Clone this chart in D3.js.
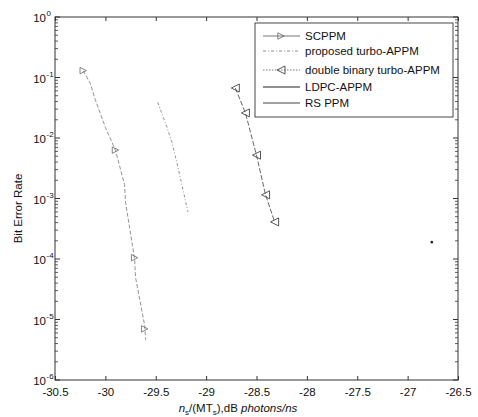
<!DOCTYPE html>
<html><head><meta charset="utf-8">
<script src="https://cdn.jsdelivr.net/npm/d3@7"></script>
<style>body{margin:0;background:#fff}svg{display:block}text{font-family:"Liberation Sans",Arial,sans-serif;fill:#111}</style>
</head><body><svg id="c" width="478" height="417"></svg>
<script>
// ---- data ----
const xTicks = [-30.5, -30, -29.5, -29, -28.5, -28, -27.5, -27, -26.5];
const xTickLabels = ["-30.5", "-30", "-29.5", "-29", "-28.5", "-28", "-27.5", "-27", "-26.5"];
const yExponents = [0, -1, -2, -3, -4, -5, -6];

const scppmX = [-30.22, -30.15, -30.10, -30.00, -29.90, -29.81, -29.80, -29.71, -29.70, -29.61, -29.60];
const scppmY = [0.13, 0.08, 0.043, 0.015, 6.3e-3, 1.7e-3, 8.7e-4, 1.0e-4, 4.9e-5, 8e-6, 4.6e-6];
const scppmMarkX = [-30.22, -29.90, -29.71, -29.61];
const scppmMarkY = [0.13, 6.3e-3, 1.05e-4, 7e-6];

const turboX = [-29.48, -29.39, -29.34, -29.28, -29.18];
const turboY = [0.039, 0.0152, 8.6e-3, 3.3e-3, 6e-4];

const dbX = [-28.71, -28.61, -28.50, -28.41, -28.32];
const dbY = [0.067, 0.026, 5.2e-3, 1.15e-3, 4.1e-4];

const ldpcX = [];
const ldpcY = [];

const rsX = [-26.76];
const rsY = [1.9e-4];

const legendLabels = ["SCPPM", "proposed turbo-APPM", "double binary turbo-APPM", "LDPC-APPM", "RS PPM"];

// ---- layout ----
const svg = d3.select("#c");
const L = 55, R = 458, T = 17, B = 380;
const x = d3.scaleLinear().domain([-30.5, -26.5]).range([L, R]);
const y = d3.scaleLog().domain([1e-6, 1]).range([B, T]);
const axisCol = "#333";

// frame
svg.append("rect").attr("x", L).attr("y", T).attr("width", R - L).attr("height", B - T)
  .attr("fill", "none").attr("stroke", axisCol).attr("stroke-width", 1);

// x ticks (bottom & top, inward)
const xb = d3.axisBottom(x).tickValues(xTicks).tickSize(-4).tickFormat((d, i) => xTickLabels[i]);
const gxb = svg.append("g").attr("transform", `translate(0,${B})`).call(xb);
gxb.select(".domain").remove();
gxb.selectAll("line").attr("stroke", axisCol);
gxb.selectAll("text").attr("dy", "0").attr("y", 16).attr("font-size", 11.5).attr("fill", "#111")
  .style("font-family", '"Liberation Sans",Arial,sans-serif');
const gxt = svg.append("g").attr("transform", `translate(0,${T})`)
  .call(d3.axisTop(x).tickValues(xTicks).tickSize(-4).tickFormat(""));
gxt.select(".domain").remove();
gxt.selectAll("line").attr("stroke", axisCol);

// y ticks: major + minor, left & right
const minor = [];
for (let e = -6; e < 0; e++) for (let k = 2; k <= 9; k++) minor.push(k * Math.pow(10, e));
const majors = yExponents.map(e => Math.pow(10, e));
[[L, 1], [R, -1]].forEach(([x0, s]) => {
  const g = svg.append("g");
  g.selectAll("line.mj").data(majors).join("line")
    .attr("x1", x0).attr("x2", x0 + s * 5).attr("y1", d => y(d)).attr("y2", d => y(d))
    .attr("stroke", axisCol);
  g.selectAll("line.mn").data(minor).join("line")
    .attr("x1", x0).attr("x2", x0 + s * 3).attr("y1", d => y(d)).attr("y2", d => y(d))
    .attr("stroke", axisCol).attr("stroke-width", 0.8);
});
// y labels
const yl = svg.append("g");
yExponents.forEach(e => {
  yl.append("text").attr("x", 46).attr("y", y(Math.pow(10, e)) + 5)
    .attr("text-anchor", "end").attr("font-size", 11.5).text("10");
  yl.append("text").attr("x", 46.5).attr("y", y(Math.pow(10, e)) - 1)
    .attr("font-size", 8).text(String(e));
});

// axis titles
svg.append("text").attr("transform", `translate(22,${(T + B) / 2 + 10}) rotate(-90)`)
  .attr("text-anchor", "middle").attr("font-size", 11.5).text("Bit Error Rate");
const xt = svg.append("text").attr("x", 238).attr("y", 412).attr("text-anchor", "middle").attr("font-size", 11.5);
xt.append("tspan").attr("font-style", "italic").text("n");
xt.append("tspan").attr("font-size", 8).attr("dy", 3).text("s");
xt.append("tspan").attr("dy", -3).text("/(MT");
xt.append("tspan").attr("font-size", 8).attr("dy", 3).text("s");
xt.append("tspan").attr("dy", -3).text("),dB ");
xt.append("tspan").attr("font-style", "italic").text("photons/ns");

// ---- series ----
const plot = svg.append("g");
const line = d3.line().x(d => x(d[0])).y(d => y(d[1]));
const zip = (a, b) => a.map((v, i) => [v, b[i]]);
const triR = s => `M${-s},${-s}L${s},0L${-s},${s}Z`;
const triL = s => `M${s},${-s}L${-s},0L${s},${s}Z`;

const styles = [
  { stroke: "#666", dash: null, w: 0.9 },
  { stroke: "#888", dash: "3,2,1,2", w: 0.9 },
  { stroke: "#666", dash: "1.5,1.5", w: 0.9 },
  { stroke: "#222", dash: null, w: 1.1 },
  { stroke: "#444", dash: null, w: 1.1 }
];

plot.append("path").datum(zip(scppmX, scppmY)).attr("d", line).attr("fill", "none")
  .attr("stroke", "#777").attr("stroke-width", 0.8).attr("stroke-dasharray", "4,2");
plot.selectAll("path.m1").data(zip(scppmMarkX, scppmMarkY)).join("path")
  .attr("transform", d => `translate(${x(d[0])},${y(d[1])})`).attr("d", triR(3.2))
  .attr("fill", "none").attr("stroke", "#666").attr("stroke-width", 0.8);

plot.append("path").datum(zip(turboX, turboY)).attr("d", line).attr("fill", "none")
  .attr("stroke", styles[1].stroke).attr("stroke-width", styles[1].w).attr("stroke-dasharray", styles[1].dash);

plot.append("path").datum(zip(dbX, dbY)).attr("d", line).attr("fill", "none")
  .attr("stroke", "#555").attr("stroke-width", 0.9).attr("stroke-dasharray", "5,2");
plot.selectAll("path.m3").data(zip(dbX, dbY)).join("path")
  .attr("transform", d => `translate(${x(d[0])},${y(d[1])})`).attr("d", triL(4))
  .attr("fill", "none").attr("stroke", "#444").attr("stroke-width", 0.9);

if (ldpcX.length) plot.append("path").datum(zip(ldpcX, ldpcY)).attr("d", line).attr("fill", "none")
  .attr("stroke", styles[3].stroke).attr("stroke-width", styles[3].w);

plot.selectAll("circle.rs").data(zip(rsX, rsY)).join("circle")
  .attr("cx", d => x(d[0])).attr("cy", d => y(d[1])).attr("r", 1.3).attr("fill", "#222");

// ---- legend ----
const lg = svg.append("g");
lg.append("rect").attr("x", 255).attr("y", 23).attr("width", 198).attr("height", 94)
  .attr("fill", "#fff").attr("stroke", axisCol).attr("stroke-width", 0.9);
const ly = [36, 51, 70, 87, 103];
legendLabels.forEach((lab, i) => {
  const yy = ly[i];
  const st = styles[i];
  const ln = lg.append("line").attr("x1", 263).attr("x2", 300).attr("y1", yy).attr("y2", yy)
    .attr("stroke", st.stroke).attr("stroke-width", st.w);
  if (st.dash) ln.attr("stroke-dasharray", st.dash);
  if (i === 0) lg.append("path").attr("transform", `translate(281,${yy})`).attr("d", triR(3.2))
    .attr("fill", "none").attr("stroke", "#666").attr("stroke-width", 0.8);
  if (i === 2) lg.append("path").attr("transform", `translate(281,${yy})`).attr("d", triL(4))
    .attr("fill", "none").attr("stroke", "#444").attr("stroke-width", 0.9);
  lg.append("text").attr("x", 305).attr("y", yy + 4).attr("font-size", 11.5).text(lab);
});
</script></body></html>
